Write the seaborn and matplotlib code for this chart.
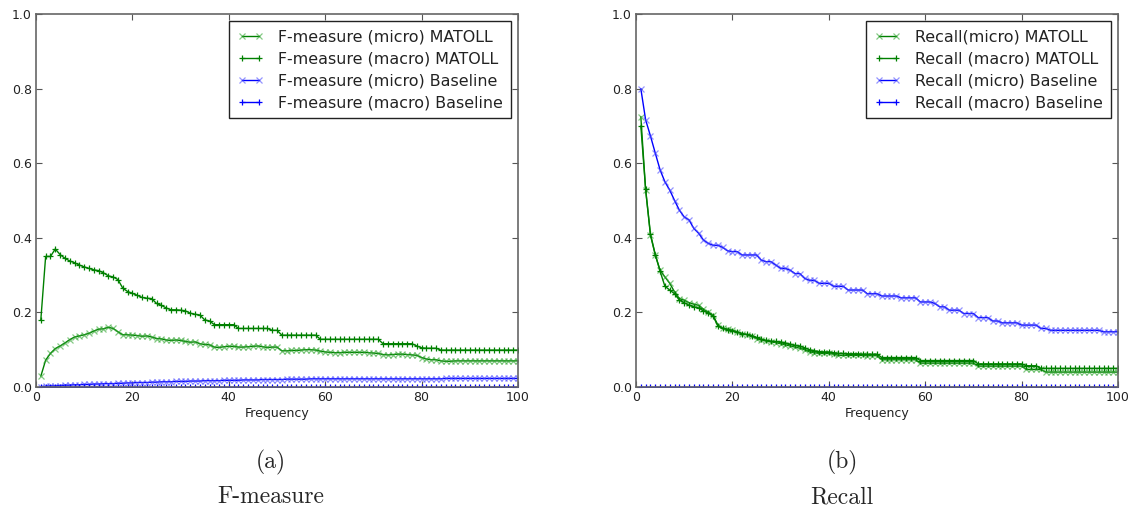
import numpy as np
import pandas as pd
import matplotlib
matplotlib.use("Agg")
import matplotlib.pyplot as plt
import seaborn as sns

freq = list(range(1, 101))

fm_micro_matoll = [
    0.029, 0.072, 0.090, 0.103, 0.110, 0.118, 0.127, 0.134, 0.137, 0.140,
    0.144, 0.150, 0.155, 0.156, 0.160, 0.157, 0.148, 0.140, 0.140, 0.139,
    0.138, 0.136, 0.137, 0.134, 0.130, 0.129, 0.126, 0.125, 0.126, 0.125,
    0.122, 0.120, 0.121, 0.116, 0.114, 0.113, 0.107, 0.106, 0.108, 0.109,
    0.109, 0.107, 0.107, 0.108, 0.109, 0.110, 0.108, 0.106, 0.107, 0.107,
    0.097, 0.097, 0.098, 0.098, 0.099, 0.100, 0.100, 0.099, 0.096, 0.094,
    0.093, 0.092, 0.092, 0.093, 0.093, 0.093, 0.093, 0.093, 0.092, 0.091,
    0.090, 0.087, 0.086, 0.087, 0.088, 0.088, 0.087, 0.086, 0.085, 0.079,
    0.075, 0.073, 0.073, 0.070, 0.069, 0.069, 0.070, 0.070, 0.070, 0.070,
    0.070, 0.070, 0.070, 0.070, 0.070, 0.070, 0.070, 0.070, 0.070, 0.070,
]
fm_macro_matoll = [
    0.180, 0.350, 0.350, 0.370, 0.355, 0.345, 0.338, 0.333, 0.327, 0.322,
    0.318, 0.314, 0.312, 0.306, 0.298, 0.295, 0.288, 0.265, 0.256, 0.251,
    0.246, 0.240, 0.238, 0.237, 0.224, 0.219, 0.212, 0.207, 0.207, 0.206,
    0.204, 0.198, 0.195, 0.193, 0.180, 0.177, 0.167, 0.167, 0.167, 0.167,
    0.167, 0.157, 0.157, 0.157, 0.157, 0.157, 0.157, 0.157, 0.152, 0.152,
    0.139, 0.139, 0.139, 0.139, 0.139, 0.139, 0.139, 0.139, 0.128, 0.128,
    0.128, 0.128, 0.128, 0.128, 0.128, 0.128, 0.128, 0.128, 0.128, 0.128,
    0.128, 0.116, 0.116, 0.116, 0.116, 0.116, 0.116, 0.116, 0.110, 0.105,
    0.104, 0.104, 0.104, 0.099, 0.099, 0.099, 0.099, 0.099, 0.099, 0.099,
    0.099, 0.099, 0.099, 0.099, 0.099, 0.099, 0.099, 0.099, 0.099, 0.099,
]
fm_micro_base = [
    0.001, 0.002, 0.003, 0.003, 0.004, 0.005, 0.005, 0.006, 0.006, 0.007,
    0.007, 0.008, 0.008, 0.009, 0.009, 0.009, 0.010, 0.010, 0.011, 0.011,
    0.012, 0.012, 0.012, 0.013, 0.013, 0.014, 0.014, 0.014, 0.015, 0.015,
    0.015, 0.016, 0.016, 0.016, 0.017, 0.017, 0.017, 0.017, 0.018, 0.018,
    0.018, 0.018, 0.019, 0.019, 0.019, 0.019, 0.020, 0.020, 0.020, 0.020,
    0.020, 0.021, 0.021, 0.021, 0.021, 0.021, 0.022, 0.022, 0.022, 0.022,
    0.022, 0.022, 0.022, 0.022, 0.022, 0.022, 0.022, 0.022, 0.022, 0.022,
    0.022, 0.022, 0.022, 0.022, 0.022, 0.022, 0.022, 0.022, 0.022, 0.022,
    0.022, 0.022, 0.022, 0.022, 0.023, 0.023, 0.023, 0.023, 0.023, 0.023,
    0.023, 0.023, 0.023, 0.023, 0.023, 0.023, 0.023, 0.023, 0.023, 0.023,
]
fm_macro_base = [
    0.0, 0.0, 0.0, 0.0, 0.0, 0.0, 0.0, 0.0, 0.0, 0.0,
    0.0, 0.0, 0.0, 0.0, 0.0, 0.0, 0.0, 0.0, 0.0, 0.0,
    0.0, 0.0, 0.0, 0.0, 0.0, 0.0, 0.0, 0.0, 0.0, 0.0,
    0.0, 0.0, 0.0, 0.0, 0.0, 0.0, 0.0, 0.0, 0.0, 0.0,
    0.0, 0.0, 0.0, 0.0, 0.0, 0.0, 0.0, 0.0, 0.0, 0.0,
    0.0, 0.0, 0.0, 0.0, 0.0, 0.0, 0.0, 0.0, 0.0, 0.0,
    0.0, 0.0, 0.0, 0.0, 0.0, 0.0, 0.0, 0.0, 0.0, 0.0,
    0.0, 0.0, 0.0, 0.0, 0.0, 0.0, 0.0, 0.0, 0.0, 0.0,
    0.0, 0.0, 0.0, 0.0, 0.0, 0.0, 0.0, 0.0, 0.0, 0.0,
    0.0, 0.0, 0.0, 0.0, 0.0, 0.0, 0.0, 0.0, 0.0, 0.0,
]

rc_micro_matoll = [
    0.725, 0.528, 0.407, 0.354, 0.313, 0.295, 0.278, 0.255, 0.237, 0.233,
    0.226, 0.222, 0.219, 0.208, 0.201, 0.192, 0.166, 0.157, 0.155, 0.152,
    0.148, 0.143, 0.140, 0.136, 0.130, 0.126, 0.123, 0.121, 0.119, 0.116,
    0.113, 0.110, 0.107, 0.104, 0.100, 0.094, 0.092, 0.090, 0.090, 0.090,
    0.088, 0.085, 0.085, 0.085, 0.085, 0.085, 0.085, 0.084, 0.084, 0.084,
    0.073, 0.073, 0.073, 0.073, 0.073, 0.073, 0.073, 0.073, 0.064, 0.064,
    0.064, 0.064, 0.064, 0.064, 0.064, 0.064, 0.064, 0.064, 0.064, 0.064,
    0.056, 0.056, 0.056, 0.056, 0.056, 0.056, 0.056, 0.056, 0.056, 0.056,
    0.047, 0.047, 0.047, 0.047, 0.040, 0.040, 0.040, 0.040, 0.040, 0.040,
    0.040, 0.040, 0.040, 0.040, 0.040, 0.040, 0.040, 0.040, 0.040, 0.040,
]
rc_macro_matoll = [
    0.700, 0.530, 0.410, 0.355, 0.310, 0.270, 0.260, 0.250, 0.233, 0.226,
    0.219, 0.215, 0.212, 0.204, 0.198, 0.190, 0.163, 0.157, 0.154, 0.151,
    0.147, 0.143, 0.141, 0.138, 0.133, 0.128, 0.125, 0.123, 0.122, 0.121,
    0.118, 0.115, 0.112, 0.110, 0.105, 0.100, 0.097, 0.095, 0.094, 0.094,
    0.092, 0.090, 0.090, 0.089, 0.089, 0.089, 0.088, 0.088, 0.088, 0.088,
    0.079, 0.079, 0.079, 0.079, 0.079, 0.079, 0.079, 0.079, 0.071, 0.071,
    0.071, 0.071, 0.071, 0.071, 0.071, 0.071, 0.071, 0.071, 0.071, 0.071,
    0.062, 0.062, 0.062, 0.062, 0.062, 0.062, 0.062, 0.062, 0.062, 0.062,
    0.057, 0.057, 0.057, 0.050, 0.050, 0.050, 0.050, 0.050, 0.050, 0.050,
    0.050, 0.050, 0.050, 0.050, 0.050, 0.050, 0.050, 0.050, 0.050, 0.050,
]
rc_micro_base = [
    0.800, 0.716, 0.673, 0.627, 0.582, 0.550, 0.528, 0.500, 0.474, 0.456,
    0.448, 0.425, 0.412, 0.394, 0.385, 0.380, 0.380, 0.374, 0.365, 0.363,
    0.363, 0.354, 0.354, 0.354, 0.354, 0.340, 0.336, 0.336, 0.327, 0.318,
    0.318, 0.313, 0.304, 0.304, 0.291, 0.286, 0.286, 0.278, 0.278, 0.278,
    0.270, 0.270, 0.270, 0.260, 0.260, 0.260, 0.260, 0.250, 0.250, 0.250,
    0.244, 0.244, 0.244, 0.244, 0.239, 0.239, 0.239, 0.239, 0.228, 0.228,
    0.228, 0.224, 0.215, 0.215, 0.206, 0.206, 0.206, 0.197, 0.197, 0.197,
    0.186, 0.186, 0.186, 0.177, 0.177, 0.172, 0.172, 0.172, 0.172, 0.166,
    0.166, 0.166, 0.166, 0.157, 0.157, 0.152, 0.152, 0.152, 0.152, 0.152,
    0.152, 0.152, 0.152, 0.152, 0.152, 0.152, 0.148, 0.148, 0.148, 0.148,
]
rc_macro_base = [
    0.0, 0.0, 0.0, 0.0, 0.0, 0.0, 0.0, 0.0, 0.0, 0.0,
    0.0, 0.0, 0.0, 0.0, 0.0, 0.0, 0.0, 0.0, 0.0, 0.0,
    0.0, 0.0, 0.0, 0.0, 0.0, 0.0, 0.0, 0.0, 0.0, 0.0,
    0.0, 0.0, 0.0, 0.0, 0.0, 0.0, 0.0, 0.0, 0.0, 0.0,
    0.0, 0.0, 0.0, 0.0, 0.0, 0.0, 0.0, 0.0, 0.0, 0.0,
    0.0, 0.0, 0.0, 0.0, 0.0, 0.0, 0.0, 0.0, 0.0, 0.0,
    0.0, 0.0, 0.0, 0.0, 0.0, 0.0, 0.0, 0.0, 0.0, 0.0,
    0.0, 0.0, 0.0, 0.0, 0.0, 0.0, 0.0, 0.0, 0.0, 0.0,
    0.0, 0.0, 0.0, 0.0, 0.0, 0.0, 0.0, 0.0, 0.0, 0.0,
    0.0, 0.0, 0.0, 0.0, 0.0, 0.0, 0.0, 0.0, 0.0, 0.0,
]

fm_labels = ["F-measure (micro) MATOLL", "F-measure (macro) MATOLL",
             "F-measure (micro) Baseline", "F-measure (macro) Baseline"]
rc_labels = ["Recall(micro) MATOLL", "Recall (macro) MATOLL",
             "Recall (micro) Baseline", "Recall (macro) Baseline"]
x_ticks = [0, 20, 40, 60, 80, 100]
y_ticks = [0.0, 0.2, 0.4, 0.6, 0.8, 1.0]
sub_labels = ["(a)", "(b)"]
captions = ["F-measure", "Recall"]

sns.set_theme(style="ticks")
plt.rcParams["font.family"] = ["DejaVu Sans"]
plt.rcParams["xtick.direction"] = "in"
plt.rcParams["ytick.direction"] = "in"

GREEN = (0.0, 0.5, 0.0)
BLUE = (0.0, 0.0, 1.0)
styles = [
    dict(color=GREEN, marker="x", mec=(0.2, 0.65, 0.2, 0.6)),
    dict(color=GREEN, marker="+", mec=GREEN),
    dict(color=BLUE, marker="x", mec=(0.3, 0.3, 1.0, 0.6)),
    dict(color=BLUE, marker="+", mec=BLUE),
]

fig = plt.figure(figsize=(11.36, 5.12), dpi=100)
ax1 = fig.add_axes([36 / 1136, 1 - 387 / 512, 482 / 1136, 373 / 512])
ax2 = fig.add_axes([636 / 1136, 1 - 387 / 512, 482 / 1136, 373 / 512])

panels = [
    (ax1, [fm_micro_matoll, fm_macro_matoll, fm_micro_base, fm_macro_base], fm_labels),
    (ax2, [rc_micro_matoll, rc_macro_matoll, rc_micro_base, rc_macro_base], rc_labels),
]

for ax, series, labels in panels:
    for vals, lab, st in zip(series, labels, styles):
        sns.lineplot(x=freq, y=vals, ax=ax, label=lab, color=st["color"],
                     marker=st["marker"], markersize=5, markeredgewidth=0.9,
                     markeredgecolor=st["mec"], linewidth=1.0)
    ax.set_xlim(0, 100)
    ax.set_ylim(0, 1.0)
    ax.set_xticks(x_ticks)
    ax.set_yticks(y_ticks)
    ax.set_yticklabels([f"{v:.1f}" for v in y_ticks])
    ax.tick_params(axis="both", which="both", direction="in", top=True, right=True,
                   labelsize=9, length=4, width=0.8, color="#555555", pad=3,
                   labelcolor="#222222")
    for sp in ax.spines.values():
        sp.set_visible(True)
        sp.set_color("#666666")
        sp.set_linewidth(1.2)
    ax.set_xlabel("Frequency", fontsize=9, labelpad=2, color="#222222")
    ax.set_ylabel("")
    leg = ax.legend(loc="upper right", fontsize=11.4, frameon=True, fancybox=False,
                    framealpha=1, edgecolor="#222222", handlelength=1.7,
                    handletextpad=0.9, labelspacing=0.45, borderpad=0.5,
                    borderaxespad=0.45, numpoints=2)
    leg.get_frame().set_linewidth(1.0)
    for t in leg.get_texts():
        t.set_color("#222222")

serif = ["cmr10", "DejaVu Serif"]
fig.text(271 / 1136, 1 - 462 / 512, sub_labels[0], ha="center", va="center",
         fontsize=17, family=serif)
fig.text(271 / 1136, 1 - 497 / 512, captions[0], ha="center", va="center",
         fontsize=17, family=serif)
fig.text(842 / 1136, 1 - 462 / 512, sub_labels[1], ha="center", va="center",
         fontsize=17, family=serif)
fig.text(842 / 1136, 1 - 497 / 512, captions[1], ha="center", va="center",
         fontsize=17, family=serif)

fig.savefig("out.png", dpi=100)
